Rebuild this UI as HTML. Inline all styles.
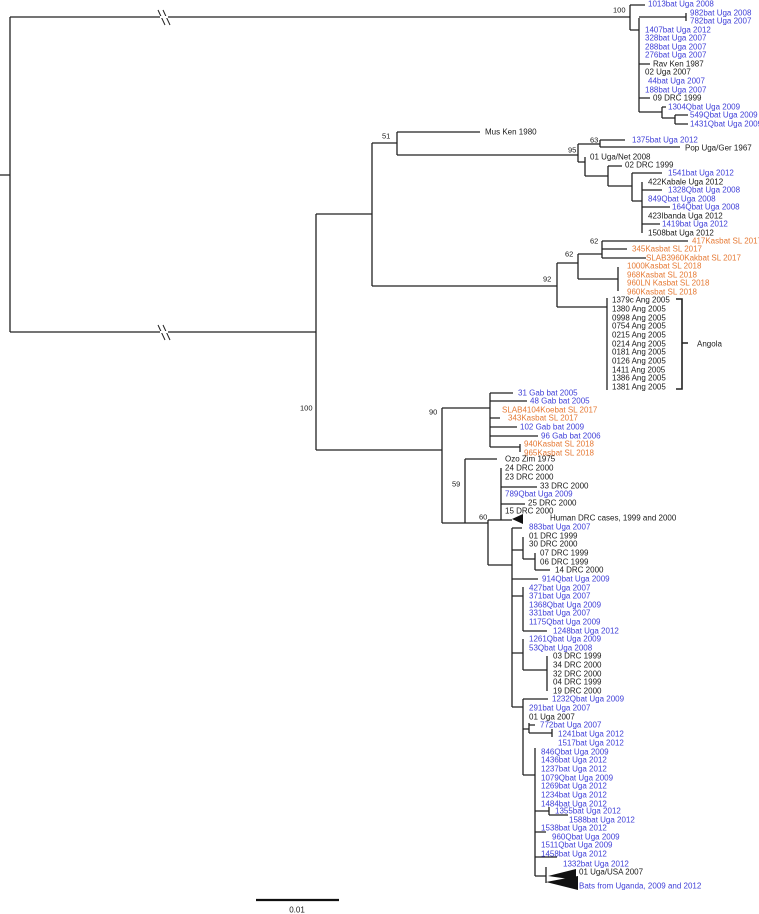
<!DOCTYPE html>
<html><head><meta charset="utf-8"><style>
html,body{margin:0;padding:0;background:#fff;}
svg{display:block;}
text{font-family:"Liberation Sans",Arial,sans-serif;font-size:8px;fill:#1a1a1a;dominant-baseline:central;}
.b{fill:#4040d8;} .o{fill:#e67a35;}
.s{font-size:7.5px;}
</style></head><body>
<svg width="759" height="914" viewBox="0 0 759 914" xmlns="http://www.w3.org/2000/svg">
<g stroke="#222" stroke-width="1.3" fill="none">
<path d="M0 175H10M10 17V332M10 17H630M10 332H316"/>
<path d="M158 10L165 25M163 10L170 25M158 325L165 340M163 325L170 340" stroke="#222" stroke-width="1"/>
<path d="M160 17H168M160 332H168" stroke="#fff" stroke-width="2"/>
<path d="M630 5V30M630 5H645M630 30H639M639 18V112M639 17H686M686 13V21M639 64H650M639 98H650M639 112H662M662 107V118M662 107H666M662 118H675M675 115V124M675 115H688M675 124H688"/>
<path d="M316 214V450M316 214H372M372 143V286M372 143H397M397 132V155M397 132H480M397 155H578M578 144V162M578 144H600M600 140V147M600 140H625M600 147H680M578 162H585M585 157V176M585 176H608M608 166V186M608 166H622M608 186H632M632 173V201M632 173H662M632 201H642M642 182V233M642 190H662M642 207H670M642 224H660"/>
<path d="M372 286H557M557 263V307M557 263H578M578 254V279M578 254H602M602 241V258M602 241H688M602 249H627M602 258H646M578 279H618M618 267V291M557 307H607M607 298V390"/>
<path d="M676 299H682V389H676M682 343H688" stroke-width="1.6"/>
<path d="M316 450H442M442 408V523M442 408H490M490 393V447M490 393H513M490 401H527M490 418H500M490 427H517M490 436H538M490 447H520M520 444V452M442 523H465M465 459V523M465 459H497M465 523H488M488 520V565M488 520H501M501 468V520M501 487H537M501 504H525M501 520H512M488 565H512"/>
<path d="M512 528V707M512 528H522M512 550H523M523 537V559M523 559H535M535 553V570M535 570H550M512 579H538M512 596H523M523 587V631M523 631H547M512 653H523M523 639V670M523 670H547M547 656V691M512 707H523M523 699V775M523 699H548M523 729H529M529 723V733M529 725H535M529 733H552M552 729V737M523 775H535M535 748V876M535 811H549M549 807V815M549 815H568M535 832H546M535 857H557M535 876H546M546 867V883"/>
<path d="M256 900H339" stroke="#111" stroke-width="2.2"/>
</g>
<polygon points="512,519 523,514 523,524" fill="#111"/>
<polygon points="548,876 576,869 576,880" fill="#111"/>
<polygon points="546,882 578,876 578,890" fill="#111"/>
<text class="s" x="613" y="10">100</text>
<text class="s" x="382" y="136">51</text>
<text class="s" x="590" y="140">63</text>
<text class="s" x="568" y="150">95</text>
<text class="s" x="590" y="241">62</text>
<text class="s" x="565" y="254">62</text>
<text class="s" x="543" y="279">92</text>
<text class="s" x="300" y="408">100</text>
<text class="s" x="429" y="412">90</text>
<text class="s" x="452" y="484">59</text>
<text class="s" x="479" y="517">60</text>
<text class="b" x="648" y="4">1013bat Uga 2008</text>
<text class="b" x="690" y="13">982bat Uga 2008</text>
<text class="b" x="690" y="21">782bat Uga 2007</text>
<text class="b" x="645" y="30">1407bat Uga 2012</text>
<text class="b" x="645" y="38">328bat Uga 2007</text>
<text class="b" x="645" y="47">288bat Uga 2007</text>
<text class="b" x="645" y="55">276bat Uga 2007</text>
<text x="653" y="64">Rav Ken 1987</text>
<text x="645" y="72">02 Uga 2007</text>
<text class="b" x="648" y="81">44bat Uga 2007</text>
<text class="b" x="645" y="90">188bat Uga 2007</text>
<text x="653" y="98">09 DRC 1999</text>
<text class="b" x="668" y="107">1304Qbat Uga 2009</text>
<text class="b" x="690" y="115">549Qbat Uga 2009</text>
<text class="b" x="690" y="124">1431Qbat Uga 2009</text>
<text x="485" y="132">Mus Ken 1980</text>
<text class="b" x="632" y="140">1375bat Uga 2012</text>
<text x="685" y="148">Pop Uga/Ger 1967</text>
<text x="590" y="157">01 Uga/Net 2008</text>
<text x="625" y="165">02 DRC 1999</text>
<text class="b" x="668" y="173">1541bat Uga 2012</text>
<text x="648" y="182">422Kabale Uga 2012</text>
<text class="b" x="668" y="190">1328Qbat Uga 2008</text>
<text class="b" x="648" y="199">849Qbat Uga 2008</text>
<text class="b" x="672" y="207">164Qbat Uga 2008</text>
<text x="648" y="216">423Ibanda Uga 2012</text>
<text class="b" x="662" y="224">1419bat Uga 2012</text>
<text x="648" y="233">1508bat Uga 2012</text>
<text class="o" x="692" y="241">417Kasbat SL 2017</text>
<text class="o" x="632" y="249">345Kasbat SL 2017</text>
<text class="o" x="646" y="258">SLAB3960Kakbat SL 2017</text>
<text class="o" x="627" y="266">1000Kasbat SL 2018</text>
<text class="o" x="627" y="275">968Kasbat SL 2018</text>
<text class="o" x="627" y="283">960LN Kasbat SL 2018</text>
<text class="o" x="627" y="292">960Kasbat SL 2018</text>
<text x="612" y="300">1379c Ang 2005</text>
<text x="612" y="309">1380 Ang 2005</text>
<text x="612" y="318">0998 Ang 2005</text>
<text x="612" y="326">0754 Ang 2005</text>
<text x="612" y="335">0215 Ang 2005</text>
<text x="612" y="344">0214 Ang 2005</text>
<text x="612" y="352">0181 Ang 2005</text>
<text x="612" y="361">0126 Ang 2005</text>
<text x="612" y="370">1411 Ang 2005</text>
<text x="612" y="378">1386 Ang 2005</text>
<text x="612" y="387">1381 Ang 2005</text>
<text x="697" y="344">Angola</text>
<text class="b" x="518" y="393">31 Gab bat 2005</text>
<text class="b" x="530" y="401">48 Gab bat 2005</text>
<text class="o" x="502" y="410">SLAB4104Koebat SL 2017</text>
<text class="o" x="508" y="418">343Kasbat SL 2017</text>
<text class="b" x="520" y="427">102 Gab bat 2009</text>
<text class="b" x="541" y="436">96 Gab bat 2006</text>
<text class="o" x="524" y="444">940Kasbat SL 2018</text>
<text class="o" x="524" y="453">965Kasbat SL 2018</text>
<text x="505" y="459">Ozo Zim 1975</text>
<text x="505" y="468">24 DRC 2000</text>
<text x="505" y="477">23 DRC 2000</text>
<text x="540" y="486">33 DRC 2000</text>
<text class="b" x="505" y="494">789Qbat Uga 2009</text>
<text x="528" y="503">25 DRC 2000</text>
<text x="505" y="511">15 DRC 2000</text>
<text x="550" y="518">Human DRC cases, 1999 and 2000</text>
<text class="b" x="529" y="527">883bat Uga 2007</text>
<text x="529" y="536">01 DRC 1999</text>
<text x="529" y="544">30 DRC 2000</text>
<text x="540" y="553">07 DRC 1999</text>
<text x="540" y="562">06 DRC 1999</text>
<text x="555" y="570">14 DRC 2000</text>
<text class="b" x="542" y="579">914Qbat Uga 2009</text>
<text class="b" x="529" y="588">427bat Uga 2007</text>
<text class="b" x="529" y="596">371bat Uga 2007</text>
<text class="b" x="529" y="605">1368Qbat Uga 2009</text>
<text class="b" x="529" y="613">331bat Uga 2007</text>
<text class="b" x="529" y="622">1175Qbat Uga 2009</text>
<text class="b" x="553" y="631">1248bat Uga 2012</text>
<text class="b" x="529" y="639">1261Qbat Uga 2009</text>
<text class="b" x="529" y="648">53Qbat Uga 2008</text>
<text x="553" y="656">03 DRC 1999</text>
<text x="553" y="665">34 DRC 2000</text>
<text x="553" y="674">32 DRC 2000</text>
<text x="553" y="682">04 DRC 1999</text>
<text x="553" y="691">19 DRC 2000</text>
<text class="b" x="552" y="699">1232Qbat Uga 2009</text>
<text class="b" x="529" y="708">291bat Uga 2007</text>
<text x="529" y="717">01 Uga 2007</text>
<text class="b" x="540" y="725">772bat Uga 2007</text>
<text class="b" x="558" y="734">1241bat Uga 2012</text>
<text class="b" x="558" y="743">1517bat Uga 2012</text>
<text class="b" x="541" y="752">846Qbat Uga 2009</text>
<text class="b" x="541" y="760">1436bat Uga 2012</text>
<text class="b" x="541" y="769">1237bat Uga 2012</text>
<text class="b" x="541" y="778">1079Qbat Uga 2009</text>
<text class="b" x="541" y="786">1269bat Uga 2012</text>
<text class="b" x="541" y="795">1234bat Uga 2012</text>
<text class="b" x="541" y="804">1484bat Uga 2012</text>
<text class="b" x="555" y="811">1355bat Uga 2012</text>
<text class="b" x="569" y="820">1588bat Uga 2012</text>
<text class="b" x="541" y="828">1538bat Uga 2012</text>
<text class="b" x="552" y="837">960Qbat Uga 2009</text>
<text class="b" x="541" y="845">1511Qbat Uga 2009</text>
<text class="b" x="541" y="854">1458bat Uga 2012</text>
<text class="b" x="563" y="864">1332bat Uga 2012</text>
<text x="579" y="872">01 Uga/USA 2007</text>
<text class="b" x="579" y="886">Bats from Uganda, 2009 and 2012</text>
<text x="297" y="910" text-anchor="middle">0.01</text>
</svg>
</body></html>
